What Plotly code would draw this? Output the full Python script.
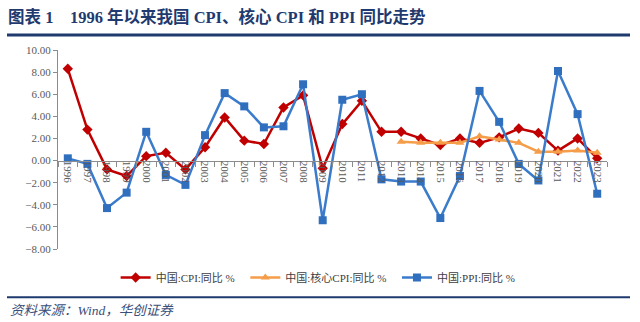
import plotly.graph_objects as go

years = [str(y) for y in range(1996, 2024)]
cpi = [8.3, 2.8, -0.8, -1.4, 0.4, 0.7, -0.8, 1.2, 3.9, 1.8, 1.5, 4.8, 5.9, -0.7,
       3.3, 5.4, 2.6, 2.6, 2.0, 1.4, 2.0, 1.6, 2.1, 2.9, 2.5, 0.9, 2.0, 0.2]
core_years = [str(y) for y in range(2013, 2024)]
core_cpi = [1.7, 1.6, 1.6, 1.6, 2.2, 1.9, 1.6, 0.8, 0.8, 0.9, 0.7]
ppi = [0.2, -0.3, -4.3, -2.9, 2.6, -1.3, -2.2, 2.3, 6.1, 4.9, 3.0, 3.1, 6.9, -5.4,
       5.5, 6.0, -1.7, -1.9, -1.9, -5.2, -1.4, 6.3, 3.5, -0.3, -1.8, 8.1, 4.2, -3.0]

title_text = "图表 1&nbsp;&nbsp;&nbsp;&nbsp;1996 年以来我国 CPI、核心 CPI 和 PPI 同比走势"
source_text = "资料来源：Wind，华创证券"
names = ["中国:CPI:同比 %", "中国:核心CPI:同比 %", "中国:PPI:同比 %"]

NAVY = "#1F3A6E"
serif_cjk = "Liberation Serif, Noto Sans CJK SC"

fig = go.Figure()
fig.add_trace(go.Scatter(x=years, y=cpi, name=names[0] + "\u00a0\u00a0", mode="lines+markers",
                         line=dict(color="#C00000", width=2.5),
                         marker=dict(symbol="diamond", size=8, color="#C00000")))
fig.add_trace(go.Scatter(x=core_years, y=core_cpi, name=names[1] + "\u00a0\u00a0", mode="lines+markers",
                         line=dict(color="#F59D48", width=2.5),
                         marker=dict(symbol="triangle-up", size=8, color="#F59D48")))
fig.add_trace(go.Scatter(x=years, y=ppi, name=names[2], mode="lines+markers",
                         line=dict(color="#3A7BCB", width=2.5),
                         marker=dict(symbol="square", size=8, color="#2F6FBE")))

fig.update_layout(
    width=640, height=322,
    margin=dict(l=58, r=33, t=50, b=73),
    paper_bgcolor="white", plot_bgcolor="white",
    showlegend=True,
    legend=dict(orientation="h", x=0.105, xanchor="left", y=-0.143, yanchor="middle",
                font=dict(family=serif_cjk, size=11, color="#404040"),
                bgcolor="rgba(0,0,0,0)", itemclick=False),
    title=dict(text="<b>" + title_text + "</b>", x=8 / 640, xanchor="left",
               y=1 - 17 / 322, yanchor="middle", yref="container",
               font=dict(family=serif_cjk, size=16.5, color=NAVY)),
    xaxis=dict(type="category", range=[-0.5, 27.5], anchor="free", position=8 / 18,
               showline=True, linecolor="#8C8C8C", linewidth=1,
               ticks="outside", tickson="boundaries", ticklen=5, tickcolor="#8C8C8C",
               tickangle=90, ticklabelstandoff=-3,
               tickfont=dict(family="Liberation Serif", size=11, color="#595959"),
               showgrid=False, zeroline=False),
    yaxis=dict(range=[-8, 10], dtick=2, tick0=0, tickformat=".2f",
               showline=True, linecolor="#8C8C8C", linewidth=1,
               ticks="outside", ticklen=4, tickcolor="#8C8C8C",
               tickfont=dict(family="Liberation Serif", size=11, color="#595959"),
               showgrid=False, zeroline=False),
)

x0 = (7 - 58) / 549
x1 = (630 - 58) / 549
fig.add_shape(type="line", xref="paper", yref="paper", x0=x0, x1=x1,
              y0=(249 - 35) / 199, y1=(249 - 35) / 199,
              line=dict(color=NAVY, width=3))
fig.add_shape(type="line", xref="paper", yref="paper", x0=x0, x1=x1,
              y0=-(297.3 - 249) / 199, y1=-(297.3 - 249) / 199,
              line=dict(color=NAVY, width=2))
fig.add_annotation(text="<i>" + source_text + "</i>", xref="paper", yref="paper",
                   x=(8 - 58) / 549, xanchor="left", y=-(310.7 - 249) / 199, yanchor="middle",
                   showarrow=False, font=dict(family=serif_cjk, size=13.5, color="#3A4F7A"))

fig.write_html("out.html")
